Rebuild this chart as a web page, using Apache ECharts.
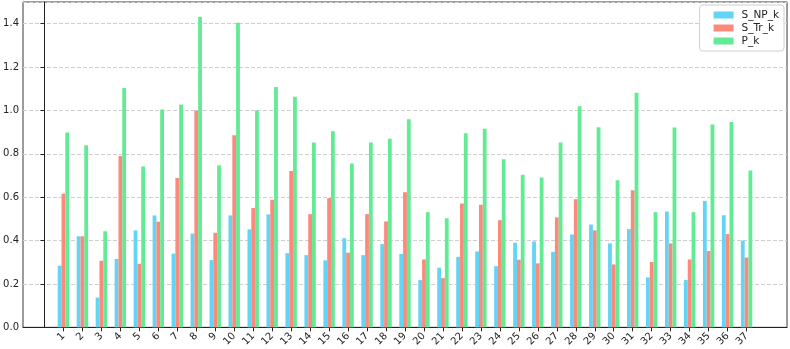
<!DOCTYPE html>
<html>
<head>
<meta charset="utf-8">
<script src="https://cdn.jsdelivr.net/npm/echarts@6/dist/echarts.min.js"></script>
<style>
  html, body { margin: 0; padding: 0; background: #fff; }
  #chart { width: 790px; height: 349px; }
</style>
</head>
<body>
<div id="chart"></div>
<script>
// categories 1..37 (k)
var categories = [];
for (var i = 1; i <= 37; i++) categories.push(i);

var sNP = [0.284, 0.42, 0.137, 0.315, 0.447, 0.516, 0.34, 0.432, 0.31, 0.516,
           0.452, 0.521, 0.342, 0.333, 0.309, 0.411, 0.333, 0.384, 0.338, 0.218,
           0.275, 0.325, 0.35, 0.282, 0.39, 0.396, 0.348, 0.428, 0.474, 0.387,
           0.453, 0.23, 0.534, 0.218, 0.583, 0.517, 0.40];
var sTr = [0.616, 0.42, 0.307, 0.79, 0.293, 0.487, 0.689, 1.0, 0.436, 0.886,
           0.55, 0.588, 0.721, 0.522, 0.596, 0.344, 0.522, 0.488, 0.623, 0.313,
           0.227, 0.571, 0.565, 0.494, 0.312, 0.295, 0.507, 0.591, 0.447, 0.29,
           0.632, 0.301, 0.387, 0.313, 0.352, 0.43, 0.322];
var pK  = [0.898, 0.84, 0.443, 1.103, 0.741, 1.004, 1.027, 1.432, 0.747, 1.404,
           1.0, 1.108, 1.063, 0.852, 0.904, 0.755, 0.852, 0.87, 0.959, 0.531,
           0.503, 0.895, 0.916, 0.775, 0.703, 0.691, 0.852, 1.019, 0.922, 0.678,
           1.082, 0.531, 0.921, 0.531, 0.935, 0.947, 0.723];

var seriesNames = ['S_NP_k', 'S_Tr_k', 'P_k'];
var seriesColors = ['#62d5f4', '#fb8a7d', '#62ea94'];

function pairs(vals) {
    return vals.map(function (v, idx) { return [categories[idx], v]; });
}

var chart = echarts.init(document.getElementById('chart'));
var fontFam = 'DejaVu Sans';

chart.setOption({
    animation: false,
    textStyle: { fontFamily: fontFam },
    grid: {
        left: 23, right: 3, top: 2, bottom: 21,
        show: true, borderColor: '#3a3a3a', borderWidth: 1,
        backgroundColor: '#fff'
    },
    legend: {
        orient: 'vertical',
        right: 6, top: 5,
        data: seriesNames,
        icon: 'rect',
        itemWidth: 20, itemHeight: 7,
        itemGap: 1,
        padding: [4, 5, 4, 14],
        borderColor: '#d0d0d0', borderWidth: 1, borderRadius: 3,
        backgroundColor: '#fff',
        textStyle: { fontSize: 10.5, color: '#222', fontFamily: fontFam, lineHeight: 12,
                     padding: [0, 0, 0, 3] }
    },
    xAxis: {
        type: 'value',
        min: -1.13, max: 39.13,
        axisLine: { show: true, lineStyle: { color: '#222' } },
        axisTick: { show: true, length: 4, customValues: categories, lineStyle: { color: '#222' } },
        axisLabel: {
            customValues: categories,
            rotate: 45, margin: 7,
            fontSize: 10, color: '#222', fontFamily: fontFam,
            formatter: function (v) { return String(v); }
        },
        splitLine: { show: false }
    },
    yAxis: {
        type: 'value',
        min: 0, max: 1.5, interval: 0.2,
        axisLine: { show: true, lineStyle: { color: '#222' } },
        axisTick: { show: true, length: 4, lineStyle: { color: '#222' } },
        axisLabel: {
            showMaxLabel: false, margin: 4,
            fontSize: 10, color: '#222', fontFamily: fontFam,
            formatter: function (v) { return v.toFixed(1); }
        },
        splitLine: { show: true, lineStyle: { color: '#cfcfcf', type: [4, 2], width: 1 } }
    },
    series: [
        { name: seriesNames[0], type: 'bar', data: pairs(sNP), barWidth: 3.8, barGap: '0%',
          itemStyle: { color: seriesColors[0] } },
        { name: seriesNames[1], type: 'bar', data: pairs(sTr), barWidth: 3.8, barGap: '0%',
          itemStyle: { color: seriesColors[1] } },
        { name: seriesNames[2], type: 'bar', data: pairs(pK), barWidth: 3.8, barGap: '0%',
          itemStyle: { color: seriesColors[2] } }
    ]
});
</script>
</body>
</html>
